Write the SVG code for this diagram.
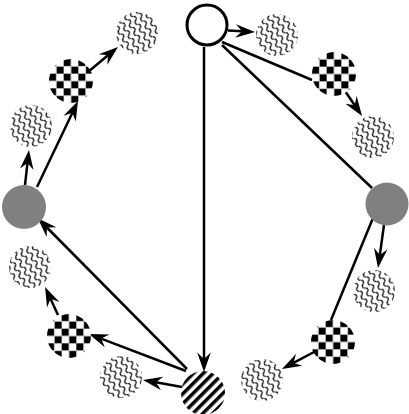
<svg xmlns="http://www.w3.org/2000/svg" width="409" height="414" viewBox="0 0 409 414">
<style>
.e{stroke:#000;stroke-width:2.5;fill:none}
.a{marker-end:url(#ah)}
.wave{fill:url(#wv)}
.chk{fill:url(#ck)}
.str{fill:url(#st)}
.gry{fill:#808080}
.wht{fill:#fff;stroke:#000;stroke-width:3}
</style>
<defs>
<marker id="ah" markerUnits="userSpaceOnUse" viewBox="-7 -7 21 14" markerWidth="21" markerHeight="14" refX="0" refY="0" orient="auto">
<path d="M13,0 L-6.5,-6.8 L0,0 L-6.5,6.8 Z" fill="#000"/>
</marker>
<pattern id="ck" patternUnits="objectBoundingBox" width="0.33333" height="0.33333" patternContentUnits="userSpaceOnUse">
<rect x="0" y="0" width="7.33" height="7.33" fill="#000"/>
<rect x="7.33" y="7.33" width="7.33" height="7.33" fill="#000"/>
<rect x="7.33" y="0" width="7.33" height="7.33" fill="#fff"/>
<rect x="0" y="7.33" width="7.33" height="7.33" fill="#fff"/>
</pattern>
<pattern id="st" patternUnits="userSpaceOnUse" width="20" height="7" patternTransform="rotate(-45)">
<rect x="0" y="0" width="20" height="7" fill="#fff"/>
<rect x="0" y="0" width="20" height="3.5" fill="#000"/>
</pattern>
<pattern id="wv" patternUnits="userSpaceOnUse" width="9" height="6.5" patternTransform="rotate(60)">
<rect x="0" y="0" width="9" height="6.5" fill="#fff"/>
<path d="M-0.2,3.25 C1.1,0.9 3.4,0.9 4.5,3.25 S7.9,5.6 9.2,3.25" fill="none" stroke="#000" stroke-width="1.3"/>
</pattern>
</defs>
<g id="connectors">
<line class="e a" x1="228" y1="30.5" x2="242" y2="31.3"/>
<line class="e" x1="222" y1="42" x2="312" y2="80"/>
<line class="e" x1="222" y1="45" x2="372" y2="188"/>
<line class="e a" x1="345" y1="91" x2="354.7" y2="105.2"/>
<line class="e a" x1="384" y1="225" x2="379.8" y2="255.1"/>
<line class="e" x1="373" y1="218" x2="331" y2="320"/>
<line class="e a" x1="314" y1="352" x2="293.5" y2="362.9"/>
<line class="e a" x1="204" y1="47" x2="204" y2="359"/>
<line class="e a" x1="186" y1="371" x2="101.1" y2="338.6"/>
<line class="e a" x1="187" y1="369" x2="46.9" y2="227.5"/>
<line class="e a" x1="182" y1="387" x2="155.8" y2="382.3"/>
<line class="e a" x1="58" y1="315" x2="50.5" y2="298.8"/>
<line class="e a" x1="25" y1="185" x2="27.5" y2="162.9"/>
<line class="e a" x1="37" y1="187" x2="72.4" y2="112.7"/>
<line class="e a" x1="88" y1="72" x2="108" y2="55.3"/>
</g>
<g id="n-top"><circle class="wht" cx="207" cy="25" r="20"/></g>
<g id="n-w1"><circle class="wave" cx="277" cy="35" r="21"/></g>
<g id="n-cTR"><circle class="chk" cx="334" cy="74" r="22"/></g>
<g id="n-w2"><circle class="wave" cx="373" cy="137" r="21"/></g>
<g id="n-gR"><circle class="gry" cx="387" cy="204" r="21.5"/></g>
<g id="n-w3"><circle class="wave" cx="374" cy="291" r="21"/></g>
<g id="n-cBR"><circle class="chk" cx="333" cy="342" r="22"/></g>
<g id="n-w4"><circle class="wave" cx="262" cy="380" r="21"/></g>
<g id="n-S"><circle class="str" cx="203" cy="393" r="22"/></g>
<g id="n-w5"><circle class="wave" cx="121" cy="377" r="21"/></g>
<g id="n-cBL"><circle class="chk" cx="69" cy="336" r="22"/></g>
<g id="n-w6"><circle class="wave" cx="30" cy="267" r="21"/></g>
<g id="n-gL"><circle class="gry" cx="24" cy="207" r="22"/></g>
<g id="n-w7"><circle class="wave" cx="31" cy="126" r="21"/></g>
<g id="n-cTL"><circle class="chk" cx="71" cy="81" r="22"/></g>
<g id="n-w8"><circle class="wave" cx="137" cy="33" r="21"/></g>
</svg>
